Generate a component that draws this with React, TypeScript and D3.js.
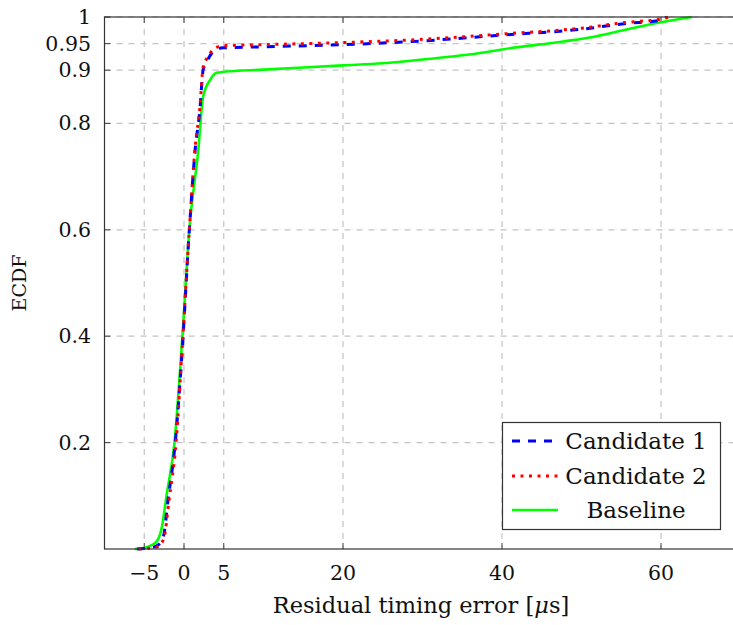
import React from "react";
import * as d3 from "d3";

const xTicks = [-5, 0, 5, 20, 40, 60];
const xTickLabels = ["\u22125", "0", "5", "20", "40", "60"];
const yTicks = [0.2, 0.4, 0.6, 0.8, 0.9, 0.95, 1];
const yTickLabels = ["0.2", "0.4", "0.6", "0.8", "0.9", "0.95", "1"];

const cand1X = [-5.9, -5, -4, -3.4, -2.6, -2.0, -1.1, -0.2, 0.67, 1.4, 2.0, 2.4, 3.0, 4.1, 5, 10, 20, 30, 40, 50, 55.7, 60, 60.7];
const cand1Y = [0, 0.001, 0.003, 0.006, 0.023, 0.093, 0.2, 0.38, 0.6, 0.75, 0.826, 0.9, 0.92, 0.94, 0.942, 0.944, 0.948, 0.955, 0.966, 0.977, 0.988, 0.994, 1.0];

const cand2X = [-5.7, -5, -4, -3.2, -2.5, -1.9, -1.0, -0.2, 0.67, 1.4, 2.0, 2.4, 3.0, 4.1, 5, 10, 20, 30, 40, 50, 55.7, 60, 61];
const cand2Y = [0, 0.001, 0.002, 0.005, 0.022, 0.09, 0.2, 0.385, 0.6, 0.755, 0.83, 0.905, 0.925, 0.943, 0.946, 0.948, 0.952, 0.958, 0.968, 0.979, 0.99, 0.996, 1.0];

const baseX = [-6.2, -5, -4, -3.4, -2.8, -2.2, -1.2, -0.2, 0.67, 1.8, 2.4, 3.3, 4.1, 5, 10, 20, 25, 30, 38.5, 40, 47.7, 51.9, 56.1, 60, 63.9];
const baseY = [0, 0.002, 0.008, 0.015, 0.04, 0.1, 0.2, 0.4, 0.6, 0.75, 0.85, 0.882, 0.895, 0.897, 0.901, 0.909, 0.913, 0.92, 0.935, 0.939, 0.954, 0.964, 0.978, 0.99, 1.0];

const seriesNames = ["Candidate 1", "Candidate 2", "Baseline"];
const seriesColors = ["#0000ff", "#ff0000", "#00ff00"];

const W = 733;
const H = 625;
const L = 104.5;
const T = 17;
const B = 549;
const FONT = "'DejaVu Serif', serif";

export default function App() {
  const x = d3.scaleLinear().domain([-10, 70]).range([L, 740.5]);
  const y = d3.scaleLinear().domain([0, 1]).range([B, T]);
  const R = x(70);

  const line = d3
    .line<[number, number]>()
    .x((d) => x(d[0]))
    .y((d) => y(d[1]))
    .curve(d3.curveMonotoneX);

  const mk = (xs: number[], ys: number[]) => xs.map((v, i) => [v, ys[i]] as [number, number]);
  const series = [
    { data: mk(cand1X, cand1Y), dash: "8 8", width: 3 },
    { data: mk(cand2X, cand2Y), dash: "3 5.5", width: 3 },
    { data: mk(baseX, baseY), dash: "none", width: 2.6 },
  ];
  const order = [2, 0, 1];

  const legX = 502.5;
  const legY = 422.5;
  const legW = 218;
  const legH = 107;
  const rowYs = [441, 476, 510];
  const txt = { fontFamily: FONT };

  return (
    <svg
      width={W}
      height={H}
      style={{ position: "absolute", left: 0, top: 0, background: "#fff", fontFamily: FONT }}
    >
      <defs>
        <clipPath id="plotclip">
          <rect x={L} y={T - 3} width={R - L} height={B - T + 6} />
        </clipPath>
      </defs>
      <rect x={0} y={0} width={W} height={H} fill="#fff" />
      {/* grid */}
      <g stroke="#c4c4c4" strokeWidth={1.2} strokeDasharray="6 6">
        {xTicks.map((t) => (
          <line key={"gx" + t} x1={x(t)} x2={x(t)} y1={T} y2={B} />
        ))}
        {yTicks.map((t) => (
          <line key={"gy" + t} x1={L} x2={R} y1={y(t)} y2={y(t)} />
        ))}
      </g>
      {/* tick marks */}
      <g stroke="#444" strokeWidth={1}>
        {xTicks.map((t) => (
          <g key={"tx" + t}>
            <line x1={x(t)} x2={x(t)} y1={B} y2={B - 6} />
            <line x1={x(t)} x2={x(t)} y1={T} y2={T + 6} />
          </g>
        ))}
        {yTicks.map((t) => (
          <g key={"ty" + t}>
            <line x1={L} x2={L + 6} y1={y(t)} y2={y(t)} />
            <line x1={R} x2={R - 6} y1={y(t)} y2={y(t)} />
          </g>
        ))}
      </g>
      {/* series */}
      <g clipPath="url(#plotclip)" fill="none">
        {order.map((i) => (
          <path
            key={seriesNames[i]}
            d={line(series[i].data) || ""}
            stroke={seriesColors[i]}
            strokeWidth={series[i].width}
            strokeDasharray={series[i].dash}
            strokeLinejoin="round"
          />
        ))}
      </g>
      {/* axis box */}
      <rect x={L} y={T} width={R - L} height={B - T} fill="none" stroke="#333" strokeWidth={1.2} />
      {/* tick labels */}
      <g fontSize={20.5} fill="#111">
        {xTicks.map((t, i) => (
          <text key={"lx" + t} style={txt} x={x(t)} y={573} textAnchor="middle" dominantBaseline="central">
            {xTickLabels[i]}
          </text>
        ))}
        {yTicks.map((t, i) => (
          <text key={"ly" + t} style={txt} x={91} y={y(t)} textAnchor="end" dominantBaseline="central">
            {yTickLabels[i]}
          </text>
        ))}
      </g>
      {/* axis labels */}
      <text style={txt} x={421} y={605} fontSize={22.5} textAnchor="middle" dominantBaseline="central" fill="#111">
        Residual timing error [<tspan fontStyle="italic">{"\u03bc"}</tspan>s]
      </text>
      <text
        style={txt}
        transform={`translate(19,${(T + B) / 2}) rotate(-90)`}
        fontSize={19}
        textAnchor="middle"
        dominantBaseline="central"
        fill="#111"
      >
        ECDF
      </text>
      {/* legend */}
      <rect x={legX} y={legY} width={legW} height={legH} fill="#fff" stroke="#333" strokeWidth={1.2} />
      {seriesNames.map((n, i) => (
        <g key={"leg" + n}>
          <line
            x1={512}
            x2={558}
            y1={rowYs[i]}
            y2={rowYs[i]}
            stroke={seriesColors[i]}
            strokeWidth={series[i].width}
            strokeDasharray={series[i].dash}
          />
          <text style={txt} x={636} y={rowYs[i]} fontSize={23} textAnchor="middle" dominantBaseline="central" fill="#111">
            {n}
          </text>
        </g>
      ))}
    </svg>
  );
}
